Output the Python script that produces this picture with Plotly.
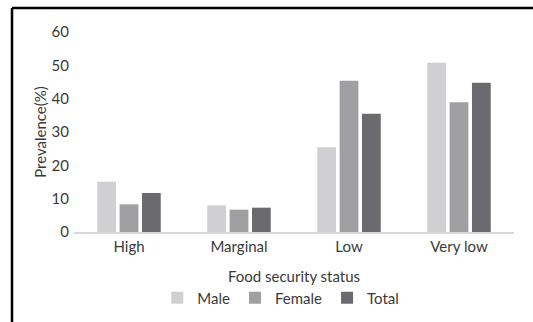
import plotly.graph_objects as go

categories = ["High", "Marginal", "Low", "Very low"]
male = [15.1, 8.0, 25.4, 50.8]
female = [8.3, 6.7, 45.4, 38.9]
total = [11.7, 7.3, 35.5, 44.8]
y_ticks = [0, 10, 20, 30, 40, 50, 60]

W, H = 533, 322
L, R, T, B = 74, 19, 32, 90
pw, ph = W - L - R, H - T - B

def px_x(p):
    return (p - L) / pw

def px_y(p):
    return (H - B - p) / ph

font = "Lato, Carlito, 'Open Sans', sans-serif"
txt = "#3a3a3a"
fs = 15

fig = go.Figure()
for name, vals, col in [("Male", male, "#d0d0d2"),
                        ("Female", female, "#a0a0a3"),
                        ("Total", total, "#6b6b6f")]:
    fig.add_trace(go.Bar(x=categories, y=vals, name=name,
                         marker=dict(color=col, line=dict(width=0))))

fig.update_layout(
    width=W, height=H,
    margin=dict(l=L, r=R, t=T, b=B, autoexpand=False),
    paper_bgcolor="white", plot_bgcolor="white",
    font=dict(family=font, size=fs, color=txt),
    barmode="group", bargap=0.39, bargroupgap=0.16,
    showlegend=True,
    legend=dict(orientation="h", x=0.47, xanchor="center",
                y=px_y(298), yanchor="middle",
                font=dict(size=fs, color=txt),
                itemwidth=30, tracegroupgap=0,
                bgcolor="rgba(0,0,0,0)"),
    xaxis=dict(showgrid=False, showline=True, linecolor="#d9d9d9",
               linewidth=2, ticks="", tickfont=dict(size=fs, color=txt),
               title=dict(text="Food security status",
                          font=dict(size=fs, color=txt), standoff=17)),
    yaxis=dict(range=[0, 60], tickvals=y_ticks, showgrid=False,
               zeroline=False, showline=False, ticks="",
               ticklabelstandoff=4,
               tickfont=dict(size=fs, color=txt),
               title=dict(text="Prevalence(%)",
                          font=dict(size=fs, color=txt), standoff=1)),
    shapes=[
        dict(type="line", xref="paper", yref="paper",
             x0=px_x(12), x1=px_x(540), y0=px_y(8), y1=px_y(8),
             line=dict(color="black", width=2.5)),
        dict(type="line", xref="paper", yref="paper",
             x0=px_x(12), x1=px_x(12), y0=px_y(8), y1=px_y(330),
             line=dict(color="black", width=2.5)),
    ],
)

fig.write_html("out.html")
